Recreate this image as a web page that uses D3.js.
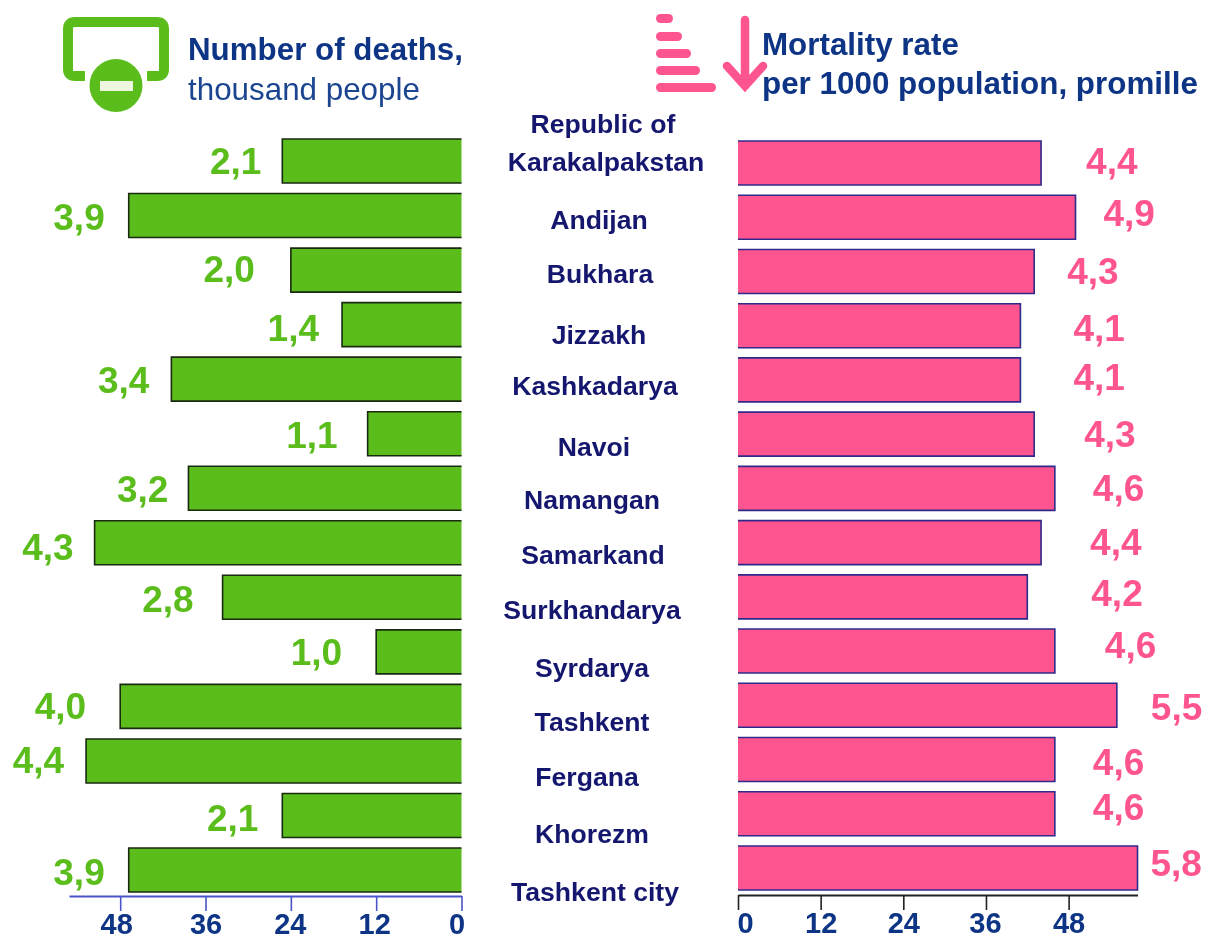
<!DOCTYPE html>
<html><head><meta charset="utf-8">
<script src="https://cdn.jsdelivr.net/npm/d3@7/dist/d3.min.js"></script>
<style>html,body{margin:0;padding:0;background:#fff}svg{display:block;filter:blur(0.45px)}text{font-family:"Liberation Sans",Arial,sans-serif}</style>
</head><body><svg id="c" width="1205" height="938"></svg>
<script>
const categories=[["Republic of","Karakalpakstan"],["Andijan"],["Bukhara"],["Jizzakh"],["Kashkadarya"],["Navoi"],["Namangan"],["Samarkand"],["Surkhandarya"],["Syrdarya"],["Tashkent"],["Fergana"],["Khorezm"],["Tashkent city"]];
const deaths=[2.1,3.9,2.0,1.4,3.4,1.1,3.2,4.3,2.8,1.0,4.0,4.4,2.1,3.9];
const rates=[4.4,4.9,4.3,4.1,4.1,4.3,4.6,4.4,4.2,4.6,5.5,4.6,4.6,5.8];
const deathTicks=[0,12,24,36,48];
const rateTicks=[0,12,24,36,48];
const deathBarFactor=12, rateBarFactor=10;
// hand-placement of labels, as in the source layout
const deathLabelGap=[21,24,36,23,22,30,20,21,29,34,34,22,24,24];
const deathLabelY=[160,216,268,327,379,434,488,546,598,651,705,759,817,871];
const rateLabelGap=[45,28,33,53,53,50,38,49,64,50,34,38,38,13];
const rateLabelY=[160,212,270,327,376,433,487,541,592,644,706,761,806,862];
const catX=[606,599,600,599,595,594,592,593,592,592,592,587,592,595];
const catY=[161,219,273,334,385,446,499,554,609,667,721,776,833,891];
const deathTickNudge={0:-5,12:-2,24:-1,36:0,48:-4};
const rateTickNudge={0:7,12:0,24:0,36:-1,48:0};

const GREEN="#5abd1c",PINK="#fe5590",NAVY="#0e3585",DARK="#15176f",BLUE="#4a55c8";
const svg=d3.select("#c");
const idx=d3.range(categories.length);
const xL=d3.scaleLinear().domain([0,55.2]).range([461.5,69]);
const xR=d3.scaleLinear().domain([0,58]).range([738,1137.5]);
const BH=44;
const yL=d3.scaleBand().domain(idx).range([139,139+54.54*13+BH]).paddingInner(1-BH/54.54);
const yR=d3.scaleBand().domain(idx).range([141,141+54.23*13+BH]).paddingInner(1-BH/54.23);

function fit(sel,w){sel.each(function(){const n=this.getComputedTextLength();const x=+this.getAttribute("x"),y=+this.getAttribute("y");
 this.setAttribute("x",0);this.setAttribute("y",0);this.setAttribute("transform",`translate(${x},${y}) scale(${w/n},1)`);});}

// bars: the edge on the axis side has no outline
svg.append("g").selectAll("path").data(idx).join("path")
 .attr("d",i=>{const x0=xL(0),x=xL(deaths[i]*deathBarFactor),y=yL(i),h=yL.bandwidth();return `M${x0},${y}H${x}V${y+h}H${x0}`;})
 .attr("fill",GREEN).attr("stroke","#1a2a10").attr("stroke-width",1.6);
svg.append("g").selectAll("path").data(idx).join("path")
 .attr("d",i=>{const x0=xR(0),x=xR(rates[i]*rateBarFactor),y=yR(i),h=yR.bandwidth();return `M${x0},${y}H${x}V${y+h}H${x0}`;})
 .attr("fill",PINK).attr("stroke","#2f2a8a").attr("stroke-width",1.6);

// value labels
svg.append("g").selectAll("text").data(idx).join("text")
 .attr("x",i=>xL(deaths[i]*deathBarFactor)-deathLabelGap[i]).attr("y",i=>deathLabelY[i]+13.5)
 .attr("text-anchor","end").attr("font-size",37).attr("font-weight","bold").attr("fill",GREEN)
 .text(i=>deaths[i].toFixed(1).replace(".",","));
svg.append("g").selectAll("text").data(idx).join("text")
 .attr("x",i=>xR(rates[i]*rateBarFactor)+rateLabelGap[i]).attr("y",i=>rateLabelY[i]+13.5)
 .attr("font-size",37).attr("font-weight","bold").attr("fill",PINK)
 .text(i=>rates[i].toFixed(1).replace(".",","));

// category labels
const cats=svg.append("g").attr("fill",DARK).attr("font-size",26.6).attr("font-weight","bold").attr("text-anchor","middle");
idx.forEach(i=>{
 const ls=categories[i];
 if(ls.length===2){
  cats.append("text").attr("x",603).attr("y",123+9.5).text(ls[0]);
  cats.append("text").attr("x",catX[i]).attr("y",catY[i]+9.5).text(ls[1]);
 } else cats.append("text").attr("x",catX[i]).attr("y",catY[i]+9.5).text(ls[0]);
});

// axes
function styleAxis(g,col,nudge,ty){
 g.select(".domain").attr("stroke",col).attr("stroke-width",2);
 g.selectAll(".tick line").attr("stroke",col).attr("stroke-width",1.6);
 g.selectAll(".tick text").attr("font-family",'"Liberation Sans",Arial,sans-serif').attr("font-size",29).attr("font-weight","bold").attr("fill",NAVY).attr("dy",0).attr("y",ty).attr("x",d=>nudge[d]);
}
svg.append("g").attr("transform","translate(0,896)")
 .call(d3.axisBottom(xL).tickValues(deathTicks).tickSize(15).tickSizeOuter(0))
 .call(styleAxis,BLUE,deathTickNudge,37.5);
svg.append("g").attr("transform","translate(0,895)")
 .call(d3.axisBottom(xR).tickValues(rateTicks).tickSize(15).tickSizeOuter(0))
 .call(styleAxis,"#222",rateTickNudge,38);

// titles
const t=svg.append("g").attr("fill",NAVY).attr("font-size",31);
t.append("text").attr("x",188).attr("y",60).attr("font-weight","bold").text("Number of deaths,").call(fit,275);
t.append("text").attr("x",188).attr("y",100).text("thousand people").attr("fill","#1c4590").call(fit,232);
t.append("text").attr("x",762).attr("y",55).attr("font-weight","bold").text("Mortality rate").call(fit,197);
t.append("text").attr("x",762).attr("y",94).attr("font-weight","bold").text("per 1000 population, promille").call(fit,436);

// icons
const ig=svg.append("g");
ig.append("path").attr("d","M85,76 L75,76 Q68,76 68,69 L68,29 Q68,22 75,22 L157,22 Q164,22 164,29 L164,69 Q164,76 157,76 L147,76")
 .attr("fill","none").attr("stroke",GREEN).attr("stroke-width",10);
ig.append("ellipse").attr("cx",116).attr("cy",85.5).attr("rx",26.5).attr("ry",26.5).attr("fill",GREEN);
ig.append("rect").attr("x",100).attr("y",81).attr("width",33).attr("height",10).attr("fill","#eef6e2");
const ip=svg.append("g").attr("fill",PINK);
[[14,17],[32,26],[49,35],[66,44],[83,60]].forEach(d=>ip.append("rect").attr("x",656).attr("y",d[0]).attr("width",d[1]).attr("height",9).attr("rx",4.5));
ip.append("path").attr("d","M745,20 L745,86 M727,66 L745,86 L763,66").attr("fill","none").attr("stroke",PINK).attr("stroke-width",8.5).attr("stroke-linecap","round").attr("stroke-linejoin","miter");
</script></body></html>
